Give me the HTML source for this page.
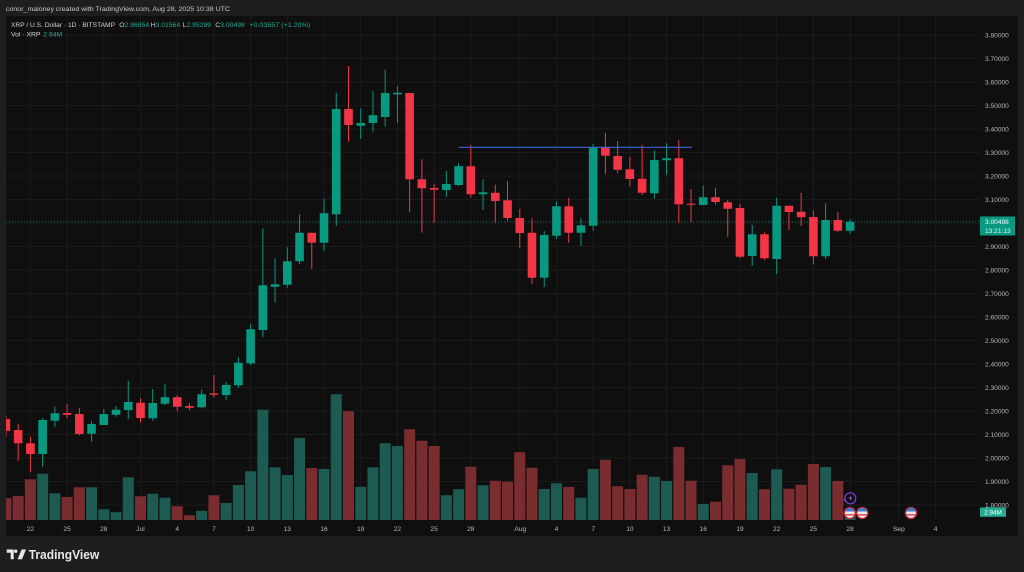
<!DOCTYPE html>
<html><head><meta charset="utf-8"><style>
html,body{margin:0;padding:0;background:#1e1e1e;width:1024px;height:572px;overflow:hidden}
svg{display:block}
text{font-family:"Liberation Sans",sans-serif}
</style></head><body>
<svg width="1024" height="572" viewBox="0 0 1024 572" xmlns="http://www.w3.org/2000/svg">
<defs><clipPath id="pc"><rect x="6" y="16" width="974" height="504"/></clipPath></defs>
<rect x="0" y="0" width="1024" height="572" fill="#1e1e1e"/>
<rect x="6" y="16" width="1012" height="520" fill="#0f0f0f"/>
<text x="6" y="11" font-size="6.8" fill="#c9c9c9" textLength="224" lengthAdjust="spacingAndGlyphs">conor_maloney created with TradingView.com, Aug 28, 2025 10:38 UTC</text>
<g clip-path="url(#pc)">
<g stroke="#1b1b1b" stroke-width="1">
<path d="M6 35H980M6 58.5H980M6 82H980M6 105.5H980M6 129H980M6 152.5H980M6 176H980M6 199.5H980M6 223H980M6 246.5H980M6 270H980M6 293.5H980M6 317H980M6 340.5H980M6 364H980M6 387.5H980M6 411H980M6 434.5H980M6 458H980M6 481.5H980M6 505H980"/>
<path d="M30.4 16V520M67.1 16V520M103.8 16V520M140.5 16V520M177.2 16V520M213.9 16V520M250.6 16V520M287.3 16V520M324 16V520M360.7 16V520M397.4 16V520M434.1 16V520M470.8 16V520M519.8 16V520M556.5 16V520M593.2 16V520M629.9 16V520M666.6 16V520M703.3 16V520M740 16V520M776.7 16V520M813.4 16V520M850.1 16V520M898.9 16V520M935.6 16V520"/>
</g>
<path stroke="#1c5a52" stroke-width="11" fill="none" d="M42.63 473.7V520M54.87 493.3V520M91.57 487.3V520M103.8 509.3V520M116.04 512.3V520M128.27 477.3V520M152.74 493.7V520M164.97 497.7V520M201.68 510.7V520M226.14 503V520M238.38 485V520M250.61 471.3V520M262.85 409.7V520M275.08 467.3V520M287.31 475V520M299.55 438V520M324.02 469V520M336.25 394.3V520M360.72 486.7V520M372.95 467.3V520M385.19 443.3V520M397.42 446V520M446.36 495.3V520M458.59 489.3V520M483.06 485.3V520M544.23 489V520M556.46 483.3V520M580.93 497.7V520M593.16 469V520M654.33 476.7V520M666.57 481V520M703.27 504V520M752.21 473V520M776.67 469.3V520M825.61 467V520M850.08 514V520"/>
<path stroke="#7a2d2f" stroke-width="11" fill="none" d="M5.93 498V520M18.17 496V520M30.4 479.3V520M67.1 497V520M79.34 487.3V520M140.51 496.3V520M177.21 506.3V520M189.44 515.3V520M213.91 495.3V520M311.78 468V520M348.48 411.3V520M409.65 429.3V520M421.89 440.7V520M434.12 446V520M470.82 466.7V520M495.29 480.7V520M507.53 481.7V520M519.76 452.3V520M531.99 467.7V520M568.7 487V520M605.4 459.7V520M617.63 486.3V520M629.87 489V520M642.1 474.7V520M678.8 447V520M691.04 480.7V520M715.5 501.7V520M727.74 465.3V520M739.97 459V520M764.44 489.3V520M788.91 488.7V520M801.14 484.7V520M813.38 464V520M837.84 481V520"/>
<line x1="6" y1="221.7" x2="980" y2="221.7" stroke="#089981" stroke-opacity="0.7" stroke-width="1" stroke-dasharray="1,2"/>
<path stroke="#089981" stroke-width="1" fill="none" d="M42.63 418V466.7M54.87 406.7V426.7M91.57 421.3V441.7M103.8 409V425M116.04 406V416.7M128.27 380.7V419M152.74 389V420.7M164.97 383.7V405M201.68 389.7V408.3M226.14 382V399.7M238.38 357.3V387.7M250.61 324V365M262.85 228.3V337.3M275.08 258.3V302.7M287.31 247.3V287.7M299.55 214.3V264M324.02 198.7V251M336.25 92.7V225.7M360.72 108.3V139M372.95 91.3V131.7M385.19 69.7V126.7M397.42 86V123M446.36 171V196.7M458.59 163.3V185.7M483.06 179.3V210M544.23 231V287M556.46 201.3V238.7M580.93 218.3V246M593.16 144V230.7M654.33 150.7V198.7M666.57 143.3V175M703.27 185.7V205.3M752.21 225V265.7M776.67 198V274M825.61 203.3V259M850.08 219.3V233.7"/>
<path stroke="#089981" stroke-width="8.6" fill="none" d="M42.63 420V454M54.87 413.3V420.7M91.57 424V433.7M103.8 414V425M116.04 409.7V414.7M128.27 402V410M152.74 403V418.3M164.97 397.3V403.7M201.68 394.3V407.3M226.14 385V395M238.38 362.7V385.3M250.61 329.3V363.3M262.85 285.3V330M275.08 284.3V286.7M287.31 261.3V284.7M299.55 232.7V261.3M324.02 213.3V242.7M336.25 109V214.3M360.72 123V125.7M372.95 115.3V123M385.19 93V117M397.42 92.8V94.4M446.36 184V190M458.59 166.3V185M483.06 192.3V194.3M544.23 235V277.7M556.46 206.3V235.7M580.93 225.3V232.7M593.16 147.3V225.7M654.33 160V193.3M666.57 158.3V160.3M703.27 197.3V205M752.21 234.3V256M776.67 205.7V259M825.61 220V256.3M850.08 221.7V230.7"/>
<path stroke="#f23645" stroke-width="1" fill="none" d="M5.93 416V437M18.17 424V460.7M30.4 436.7V472M67.1 404V418M79.34 408V435.3M140.51 398.3V422.7M177.21 395.3V411.3M189.44 403.3V410M213.91 375V397.7M311.78 232.7V269M348.48 66V141.7M409.65 93V212.3M421.89 159.3V232.7M434.12 184.3V222.7M470.82 144.7V197.7M495.29 184.7V222.7M507.53 181V220.7M519.76 209V247.7M531.99 218.3V284M568.7 198V242.7M605.4 132.7V174.3M617.63 141V173.3M629.87 156.7V186.7M642.1 144.7V195M678.8 140V222.7M691.04 189V221.7M715.5 187.7V204.3M727.74 200V236.7M739.97 203.7V258.3M764.44 232.3V260M788.91 205.7V230M801.14 192.7V226M813.38 210.3V264.3M837.84 212V231.7"/>
<path stroke="#f23645" stroke-width="8.6" fill="none" d="M5.93 419V431M18.17 430V443.3M30.4 443.3V454M67.1 413V414.7M79.34 414V434M140.51 402.7V418M177.21 397.3V406.7M189.44 406V407.7M213.91 393.4V394.8M311.78 232.7V242.7M348.48 109V125M409.65 93V179.3M421.89 179.3V188.3M434.12 188V189.7M470.82 166.3V194.3M495.29 192.7V201M507.53 200.3V218M519.76 218V233M531.99 232.7V277.7M568.7 206.3V232.7M605.4 147.3V155.7M617.63 156V169.7M629.87 169.3V179M642.1 178.7V192.7M678.8 158.3V204.3M691.04 203.6V204.8M715.5 197.3V202M727.74 202.3V208.7M739.97 208V256.7M764.44 234.3V258.3M788.91 205.7V212M801.14 211.7V217.3M813.38 217V256.3M837.84 220V230.7"/>
<line x1="458.7" y1="147.3" x2="692" y2="147.3" stroke="#3d63d8" stroke-width="1.2"/>
</g>
<text x="11" y="27" font-size="6.8" fill="#d1d4dc"><tspan textLength="104" lengthAdjust="spacingAndGlyphs">XRP / U.S. Dollar · 1D · BITSTAMP</tspan></text>
<text y="27" font-size="6.8" fill="#22ab94"><tspan x="119.3" fill="#d1d4dc">O</tspan><tspan>2.96854</tspan><tspan x="150.7" fill="#d1d4dc">H</tspan><tspan>3.01564</tspan><tspan x="182.7" fill="#d1d4dc">L</tspan><tspan>2.95299</tspan><tspan x="215.3" fill="#d1d4dc">C</tspan><tspan>3.00498</tspan><tspan x="249.3" textLength="61" lengthAdjust="spacingAndGlyphs">+0.03557 (+1.20%)</tspan></text>
<text x="11" y="36.4" font-size="6.8" fill="#d1d4dc">Vol · XRP</text>
<text x="43.3" y="36.4" font-size="6.8" fill="#22ab94">2.94M</text>
<g font-size="6.6" fill="#b8b8b8">
<text x="985" y="37.3">3.80000</text><text x="985" y="60.8">3.70000</text><text x="985" y="84.3">3.60000</text><text x="985" y="107.8">3.50000</text><text x="985" y="131.3">3.40000</text><text x="985" y="154.8">3.30000</text><text x="985" y="178.3">3.20000</text><text x="985" y="201.8">3.10000</text><text x="985" y="248.8">2.90000</text><text x="985" y="272.3">2.80000</text><text x="985" y="295.8">2.70000</text><text x="985" y="319.3">2.60000</text><text x="985" y="342.8">2.50000</text><text x="985" y="366.3">2.40000</text><text x="985" y="389.8">2.30000</text><text x="985" y="413.3">2.20000</text><text x="985" y="436.8">2.10000</text><text x="985" y="460.3">2.00000</text><text x="985" y="483.8">1.90000</text><text x="985" y="507.3">1.80000</text>
</g>
<rect x="980" y="216.5" width="35" height="19" fill="#089981"/>
<text x="985" y="224.2" font-size="6.6" fill="#ffffff">3.00498</text>
<text x="985" y="233" font-size="6.6" fill="#e6f5f2">13:21:13</text>
<rect x="980" y="507.5" width="26" height="9.3" fill="#22ab94"/>
<text x="993" y="514.6" font-size="6.4" fill="#ffffff" text-anchor="middle">2.94M</text>
<g font-size="6.6" fill="#b8b8b8" text-anchor="middle">
<text x="30.4" y="531">22</text><text x="67.1" y="531">25</text><text x="103.8" y="531">28</text><text x="140.5" y="531">Jul</text><text x="177.2" y="531">4</text><text x="213.9" y="531">7</text><text x="250.6" y="531">10</text><text x="287.3" y="531">13</text><text x="324" y="531">16</text><text x="360.7" y="531">19</text><text x="397.4" y="531">22</text><text x="434.1" y="531">25</text><text x="470.8" y="531">28</text><text x="520.3" y="531">Aug</text><text x="556.5" y="531">4</text><text x="593.2" y="531">7</text><text x="629.9" y="531">10</text><text x="666.6" y="531">13</text><text x="703.3" y="531">16</text><text x="740" y="531">19</text><text x="776.7" y="531">22</text><text x="813.4" y="531">25</text><text x="850.1" y="531">28</text><text x="898.9" y="531">Sep</text><text x="935.6" y="531">4</text>
</g>
<circle cx="850.3" cy="498.3" r="5.5" fill="#0f0f0f" stroke="#7e3fe0" stroke-width="1.2"/>
<path d="M851.2 494.8L848.8 498.8H850.6L849.6 501.8L852.2 497.6H850.4Z" fill="#9a6cf0"/>
<path d="M843.3 500.2L844.6 499L845.9 500.2L844.6 501.4Z" fill="#7e3fe0"/>
<g>
<circle cx="849.8" cy="513" r="5.6" fill="#e8e8e8" stroke="#c0262d" stroke-width="1.3"/>
<path d="M845 511.5A5 5 0 0 1 854.6 511.5Z" fill="#3d7bd6"/><path d="M845.3 514.2H854.3V515.5H845.3Z" fill="#d33"/>
<circle cx="862.3" cy="513" r="5.6" fill="#e8e8e8" stroke="#c0262d" stroke-width="1.3"/>
<path d="M857.5 511.5A5 5 0 0 1 867.1 511.5Z" fill="#3d7bd6"/><path d="M857.8 514.2H866.8V515.5H857.8Z" fill="#d33"/>
<circle cx="911" cy="513" r="5.6" fill="#e8e8e8" stroke="#c0262d" stroke-width="1.3"/>
<path d="M906.2 511.5A5 5 0 0 1 915.8 511.5Z" fill="#3d7bd6"/><path d="M906.5 514.2H915.5V515.5H906.5Z" fill="#d33"/>
</g>
<path d="M6.7 549.5H13.7V559.3H10.7V552.7H6.7Z" fill="#e8e8e8"/>
<circle cx="15.7" cy="551.2" r="1.7" fill="#e8e8e8"/>
<path d="M17.6 559.3L21.6 549.5H26L22 559.3Z" fill="#e8e8e8"/>
<text x="28.7" y="559" font-size="13" font-weight="bold" fill="#e8e8e8" textLength="70.6" lengthAdjust="spacingAndGlyphs">TradingView</text>
</svg>
</body></html>
